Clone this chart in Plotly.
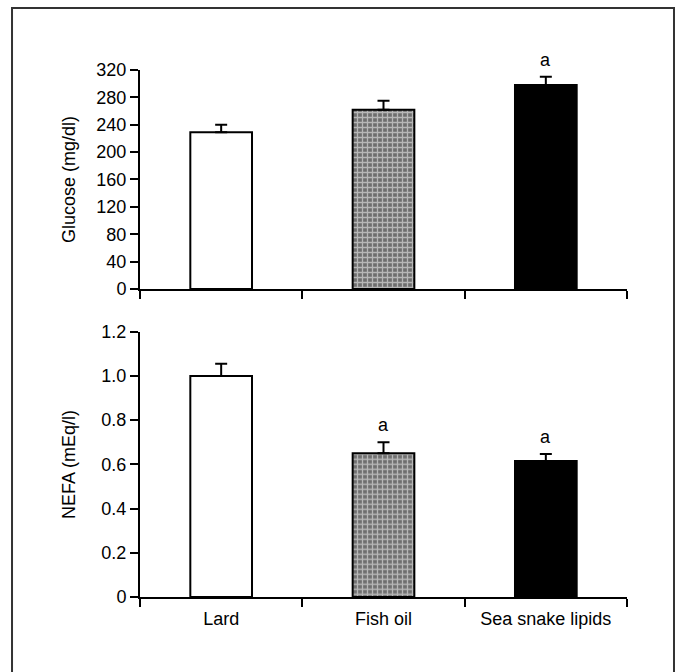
import plotly.graph_objects as go
from plotly.subplots import make_subplots

categories = ["Lard", "Fish oil", "Sea snake lipids"]
glucose = [229, 262, 298]
glucose_err = [11, 13, 12]
glucose_sig = ["", "", "a"]
nefa = [1.00, 0.65, 0.615]
nefa_err = [0.055, 0.05, 0.032]
nefa_sig = ["", "a", "a"]
glucose_ticks = [0, 40, 80, 120, 160, 200, 240, 280, 320]
nefa_ticks = [0, 0.2, 0.4, 0.6, 0.8, 1.0, 1.2]
nefa_ticktext = ["0", "0.2", "0.4", "0.6", "0.8", "1.0", "1.2"]

FONT = "Liberation Sans, Arial, sans-serif"
fills = ["white", "#6e6e6e", "black"]
patterns = ["", "+", ""]

fig = make_subplots(rows=2, cols=1, vertical_spacing=0.0812,
                    row_heights=[0.4156, 0.5034])

def add_bars(vals, errs, row):
    fig.add_trace(go.Bar(
        x=categories, y=vals, width=0.38,
        marker=dict(color=fills, line=dict(color="black", width=2),
                    pattern=dict(shape=patterns, fgcolor="#262626",
                                 bgcolor="#858585", size=5, solidity=0.45)),
        error_y=dict(type="data", symmetric=False, array=errs,
                     arrayminus=[0] * len(errs), color="black",
                     thickness=2, width=6),
        showlegend=False, cliponaxis=False), row=row, col=1)

add_bars(glucose, glucose_err, 1)
add_bars(nefa, nefa_err, 2)

for c, v, e, s in zip(categories, glucose, glucose_err, glucose_sig):
    if s:
        fig.add_annotation(x=c, y=v + e, text=s, showarrow=False, yanchor="bottom",
                           yshift=5, xref="x", yref="y",
                           font=dict(family=FONT, size=18, color="black"))
for c, v, e, s in zip(categories, nefa, nefa_err, nefa_sig):
    if s:
        fig.add_annotation(x=c, y=v + e, text=s, showarrow=False, yanchor="bottom",
                           yshift=5, xref="x2", yref="y2",
                           font=dict(family=FONT, size=18, color="black"))

axis_common = dict(showline=True, linecolor="black", linewidth=2, ticks="outside",
                   tickcolor="black", tickwidth=2, ticklen=8, showgrid=False,
                   zeroline=False, tickfont=dict(family=FONT, size=18, color="black"))

fig.update_xaxes(type="category", tickson="boundaries", range=[-0.5, 2.5],
                 ticklabelstandoff=4, **axis_common)
fig.update_xaxes(showticklabels=False, row=1, col=1)
fig.update_yaxes(**axis_common)
fig.update_yaxes(range=[0, 320], tickvals=glucose_ticks,
                 title=dict(text="Glucose (mg/dl)", standoff=16,
                            font=dict(family=FONT, size=18, color="black")),
                 row=1, col=1)
fig.update_yaxes(range=[0, 1.2], tickvals=nefa_ticks, ticktext=nefa_ticktext,
                 title=dict(text="NEFA (mEq/l)", standoff=21,
                            font=dict(family=FONT, size=18, color="black")),
                 row=2, col=1)

# outer frame (decorative)
fig.add_shape(type="rect", xref="paper", yref="paper",
              x0=-0.2628, x1=1.0965, y0=-0.2, y1=1.1177,
              line=dict(color="#333333", width=2), fillcolor="rgba(0,0,0,0)")

fig.update_layout(width=681, height=672, margin=dict(l=140, r=54, t=70, b=75),
                  paper_bgcolor="white", plot_bgcolor="white", bargap=0.62,
                  font=dict(family=FONT, size=18, color="black"))

fig.write_html("out.html")
